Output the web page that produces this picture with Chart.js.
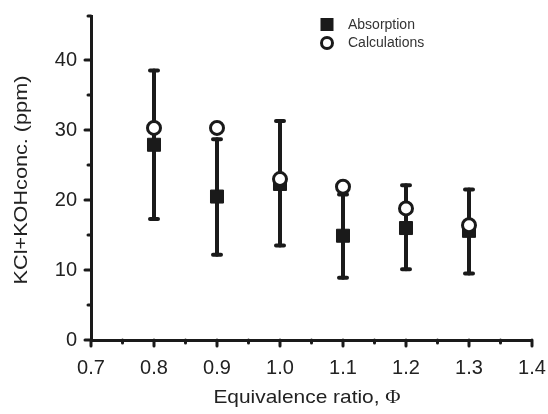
<!DOCTYPE html>
<html>
<head>
<meta charset="utf-8">
<script src="https://cdn.jsdelivr.net/npm/chart.js@4"></script>
<style>
  html, body { margin: 0; padding: 0; background: #fff; }
  #wrap { width: 548px; height: 414px; }
</style>
</head>
<body>
<div id="wrap"><canvas id="chart" width="548" height="414"></canvas></div>
<script>
// values
const phi = [0.8, 0.9, 1.0, 1.1, 1.2, 1.3];
const absorption = [27.9, 20.5, 22.3, 14.9, 16.0, 15.6];
const absHigh = [38.5, 28.7, 31.3, 20.8, 22.1, 21.5];
const absLow = [17.3, 12.2, 13.5, 8.9, 10.1, 9.5];
const calculations = [30.3, 30.3, 23.0, 21.9, 18.8, 16.4];
const xTicks = [0.7, 0.8, 0.9, 1.0, 1.1, 1.2, 1.3, 1.4];
const yTicks = [0, 10, 20, 30, 40];

const INK = '#1a1a1a';
const FONT = '"Liberation Sans", Arial, sans-serif';
const SERIF = '"Liberation Serif", "Times New Roman", serif';

const errorBars = {
  id: 'errorBars',
  beforeDatasetsDraw(chart) {
    const { ctx, scales: { x, y } } = chart;
    ctx.save();
    ctx.strokeStyle = INK;
    ctx.lineCap = 'round';
    ctx.lineWidth = 4;
    phi.forEach((p, i) => {
      const px = x.getPixelForValue(p);
      const top = y.getPixelForValue(absHigh[i]);
      const bot = y.getPixelForValue(absLow[i]);
      ctx.beginPath(); ctx.moveTo(px, top); ctx.lineTo(px, bot); ctx.stroke();
      ctx.beginPath();
      ctx.moveTo(px - 4, top); ctx.lineTo(px + 4, top);
      ctx.moveTo(px - 4, bot); ctx.lineTo(px + 4, bot);
      ctx.stroke();
    });
    ctx.restore();
  }
};

// text drawn with a slight horizontal stretch, like the original figure's font
function wideText(ctx, parts, cx, cy, stretch) {
  let total = 0;
  parts.forEach(p => { ctx.font = p.font; total += ctx.measureText(p.text).width; });
  ctx.save();
  ctx.translate(cx, cy);
  ctx.scale(stretch, 1);
  let sx = -total / 2;
  ctx.textAlign = 'left';
  ctx.textBaseline = 'middle';
  parts.forEach(p => {
    ctx.font = p.font;
    ctx.fillText(p.text, sx, 0);
    sx += ctx.measureText(p.text).width;
  });
  ctx.restore();
}

const decorations = {
  id: 'decorations',
  afterDraw(chart) {
    const { ctx, chartArea, scales: { x, y } } = chart;
    ctx.save();
    ctx.strokeStyle = INK;
    ctx.fillStyle = INK;
    ctx.lineCap = 'round';
    ctx.lineWidth = 3;
    // y ticks: majors every 10, minors every 5
    y.ticks.forEach(t => {
      const py = y.getPixelForValue(t.value);
      const major = yTicks.includes(t.value);
      ctx.beginPath();
      ctx.moveTo(chartArea.left, py);
      ctx.lineTo(chartArea.left - (major ? 6 : 3), py);
      ctx.stroke();
    });
    // x ticks
    x.ticks.forEach(t => {
      const px = x.getPixelForValue(t.value);
      const major = xTicks.some(v => Math.abs(v - t.value) < 1e-6);
      ctx.beginPath();
      ctx.moveTo(px, chartArea.bottom);
      ctx.lineTo(px, chartArea.bottom + (major ? 6 : 3));
      ctx.stroke();
    });

    // legend
    ctx.fillRect(320.5, 18, 13, 13);
    ctx.fillStyle = '#fff';
    ctx.beginPath(); ctx.arc(327, 43, 5.5, 0, Math.PI * 2); ctx.fill(); ctx.stroke();
    ctx.fillStyle = '#333';
    ctx.font = '14px ' + FONT;
    ctx.textBaseline = 'middle';
    ctx.textAlign = 'left';
    ctx.fillText('Absorption', 348, 25);
    ctx.fillText('Calculations', 348, 43);

    // axis titles
    ctx.fillStyle = '#222';
    ctx.save();
    ctx.translate(22, 180);
    ctx.rotate(-Math.PI / 2);
    wideText(ctx, [{ text: 'KCl+KOHconc. (ppm)', font: '19px ' + FONT }], 0, 0, 1.14);
    ctx.restore();

    wideText(ctx, [
      { text: 'Equivalence ratio, ', font: '19px ' + FONT },
      { text: 'Φ', font: '19px ' + SERIF }
    ], 307, 398, 1.1);
    ctx.restore();
  }
};

new Chart(document.getElementById('chart'), {
  type: 'scatter',
  data: {
    datasets: [
      {
        label: 'Calculations',
        data: phi.map((p, i) => ({ x: p, y: calculations[i] })),
        pointStyle: 'circle',
        pointRadius: 6.5,
        pointBorderWidth: 3,
        pointBackgroundColor: '#fff',
        pointBorderColor: INK,
        order: 0
      },
      {
        label: 'Absorption',
        data: phi.map((p, i) => ({ x: p, y: absorption[i] })),
        pointStyle: 'rect',
        pointRadius: 9.2,
        pointBorderWidth: 1,
        pointBackgroundColor: INK,
        pointBorderColor: INK,
        order: 1
      }
    ]
  },
  plugins: [errorBars, decorations],
  options: {
    responsive: false,
    animation: false,
    events: [],
    layout: { padding: { top: 16, right: 16, left: 0, bottom: 0 } },
    plugins: { legend: { display: false }, tooltip: { enabled: false } },
    scales: {
      x: {
        type: 'linear',
        min: 0.7,
        max: 1.4,
        afterFit(s) { s.height = 74; s.paddingLeft = 0; s.paddingRight = 0; },
        border: { display: true, color: INK, width: 3 },
        grid: { display: true, drawOnChartArea: false, drawTicks: true, tickLength: 6, tickColor: 'rgba(0,0,0,0)' },
        ticks: {
          stepSize: 0.05,
          padding: 10,
          color: '#222',
          font: { family: FONT, size: 20 },
          maxRotation: 0,
          autoSkip: false,
          callback: v => xTicks.some(t => Math.abs(t - v) < 1e-6) ? v.toFixed(1) : ''
        }
      },
      y: {
        type: 'linear',
        min: 0,
        max: 46.3,
        afterFit(s) { s.width = 91; s.paddingTop = 0; s.paddingBottom = 0; },
        border: { display: true, color: INK, width: 3 },
        grid: { display: true, drawOnChartArea: false, drawTicks: true, tickLength: 6, tickColor: 'rgba(0,0,0,0)' },
        ticks: {
          stepSize: 5,
          padding: 8,
          color: '#222',
          font: { family: FONT, size: 20 },
          autoSkip: false,
          callback: v => yTicks.includes(v) ? String(v) : ''
        }
      }
    }
  }
});
</script>
</body>
</html>
